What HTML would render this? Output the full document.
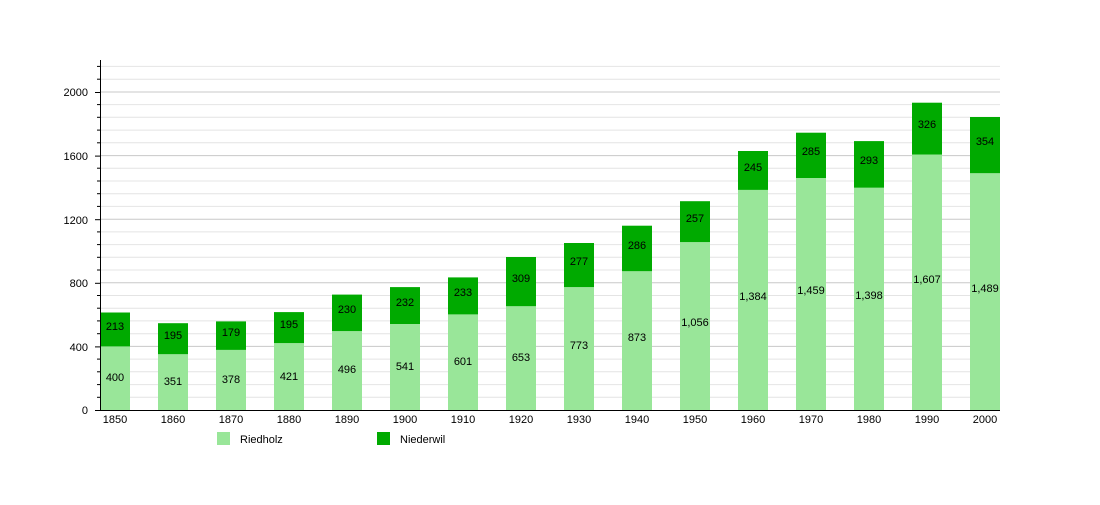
<!DOCTYPE html>
<html><head><meta charset="utf-8"><style>
body{margin:0;background:#fff}
svg text{font-family:"Liberation Sans",sans-serif;font-size:11px;fill:#000}
</style></head><body>
<svg width="1100" height="500" xmlns="http://www.w3.org/2000/svg">
<g stroke="#e4e4e4" stroke-width="1">
<line x1="100" x2="1000" y1="397.3" y2="397.3"/><line x1="100" x2="1000" y1="384.6" y2="384.6"/><line x1="100" x2="1000" y1="371.8" y2="371.8"/><line x1="100" x2="1000" y1="359.1" y2="359.1"/>
<line x1="100" x2="1000" y1="333.7" y2="333.7"/><line x1="100" x2="1000" y1="320.9" y2="320.9"/><line x1="100" x2="1000" y1="308.2" y2="308.2"/><line x1="100" x2="1000" y1="295.5" y2="295.5"/>
<line x1="100" x2="1000" y1="270.0" y2="270.0"/><line x1="100" x2="1000" y1="257.3" y2="257.3"/><line x1="100" x2="1000" y1="244.6" y2="244.6"/><line x1="100" x2="1000" y1="231.9" y2="231.9"/>
<line x1="100" x2="1000" y1="206.4" y2="206.4"/><line x1="100" x2="1000" y1="193.7" y2="193.7"/><line x1="100" x2="1000" y1="181.0" y2="181.0"/><line x1="100" x2="1000" y1="168.2" y2="168.2"/>
<line x1="100" x2="1000" y1="142.8" y2="142.8"/><line x1="100" x2="1000" y1="130.1" y2="130.1"/><line x1="100" x2="1000" y1="117.3" y2="117.3"/><line x1="100" x2="1000" y1="104.6" y2="104.6"/>
<line x1="100" x2="1000" y1="79.2" y2="79.2"/><line x1="100" x2="1000" y1="66.4" y2="66.4"/>
</g>
<g stroke="#c8c8c8" stroke-width="1">
<line x1="100" x2="1000" y1="346.4" y2="346.4"/><line x1="100" x2="1000" y1="282.8" y2="282.8"/><line x1="100" x2="1000" y1="219.2" y2="219.2"/><line x1="100" x2="1000" y1="155.6" y2="155.6"/><line x1="100" x2="1000" y1="92" y2="92"/>
</g>
<g fill="#99e699">
<rect x="100" y="346.4" width="30" height="63.6"/><rect x="158" y="354.2" width="30" height="55.8"/><rect x="216" y="349.9" width="30" height="60.1"/><rect x="274" y="343.1" width="30" height="66.9"/>
<rect x="332" y="331.1" width="30" height="78.9"/><rect x="390" y="324.0" width="30" height="86"/><rect x="448" y="314.4" width="30" height="95.6"/><rect x="506" y="306.2" width="30" height="103.8"/>
<rect x="564" y="287.1" width="30" height="122.9"/><rect x="622" y="271.2" width="30" height="138.8"/><rect x="680" y="242.1" width="30" height="167.9"/><rect x="738" y="189.9" width="30" height="220.1"/>
<rect x="796" y="178.0" width="30" height="232"/><rect x="854" y="187.7" width="30" height="222.3"/><rect x="912" y="154.5" width="30" height="255.5"/><rect x="970" y="173.2" width="30" height="236.8"/>
</g>
<g fill="#00aa00">
<rect x="100" y="312.5" width="30" height="33.9"/><rect x="158" y="323.2" width="30" height="31"/><rect x="216" y="321.4" width="30" height="28.5"/><rect x="274" y="312.1" width="30" height="31"/>
<rect x="332" y="294.6" width="30" height="36.5"/><rect x="390" y="287.1" width="30" height="36.9"/><rect x="448" y="277.4" width="30" height="37"/><rect x="506" y="257.0" width="30" height="49.2"/>
<rect x="564" y="243.0" width="30" height="44.1"/><rect x="622" y="225.7" width="30" height="45.5"/><rect x="680" y="201.2" width="30" height="40.9"/><rect x="738" y="151.0" width="30" height="38.9"/>
<rect x="796" y="132.7" width="30" height="45.3"/><rect x="854" y="141.1" width="30" height="46.6"/><rect x="912" y="102.7" width="30" height="51.8"/><rect x="970" y="117.0" width="30" height="56.2"/>
</g>
<g text-anchor="middle" dominant-baseline="middle">
<text x="115" y="378">400</text><text x="173" y="382">351</text><text x="231" y="380">378</text><text x="289" y="377">421</text>
<text x="347" y="370">496</text><text x="405" y="367">541</text><text x="463" y="362">601</text><text x="521" y="358">653</text>
<text x="579" y="346">773</text><text x="637" y="338">873</text><text x="695" y="323">1,056</text><text x="753" y="297">1,384</text>
<text x="811" y="291">1,459</text><text x="869" y="296">1,398</text><text x="927" y="280">1,607</text><text x="985" y="289">1,489</text>
<text x="115" y="327">213</text><text x="173" y="336">195</text><text x="231" y="333">179</text><text x="289" y="325">195</text>
<text x="347" y="310">230</text><text x="405" y="303">232</text><text x="463" y="293">233</text><text x="521" y="279">309</text>
<text x="579" y="262">277</text><text x="637" y="246">286</text><text x="695" y="219">257</text><text x="753" y="168">245</text>
<text x="811" y="152">285</text><text x="869" y="161">293</text><text x="927" y="125">326</text><text x="985" y="142">354</text>
</g>
<g stroke="#000" stroke-width="1">
<line x1="100.5" y1="60" x2="100.5" y2="410.5"/><line x1="100" y1="410.5" x2="1000" y2="410.5"/>
<line x1="95" x2="100" y1="410.5" y2="410.5"/><line x1="95" x2="100" y1="346.9" y2="346.9"/><line x1="95" x2="100" y1="283.3" y2="283.3"/><line x1="95" x2="100" y1="219.7" y2="219.7"/><line x1="95" x2="100" y1="156.1" y2="156.1"/><line x1="95" x2="100" y1="92.5" y2="92.5"/>
</g>
<g stroke="#000" stroke-width="1">
<line x1="97" x2="100" y1="397.3" y2="397.3"/><line x1="97" x2="100" y1="384.6" y2="384.6"/><line x1="97" x2="100" y1="371.8" y2="371.8"/><line x1="97" x2="100" y1="359.1" y2="359.1"/>
<line x1="97" x2="100" y1="333.7" y2="333.7"/><line x1="97" x2="100" y1="320.9" y2="320.9"/><line x1="97" x2="100" y1="308.2" y2="308.2"/><line x1="97" x2="100" y1="295.5" y2="295.5"/>
<line x1="97" x2="100" y1="270.0" y2="270.0"/><line x1="97" x2="100" y1="257.3" y2="257.3"/><line x1="97" x2="100" y1="244.6" y2="244.6"/><line x1="97" x2="100" y1="231.9" y2="231.9"/>
<line x1="97" x2="100" y1="206.4" y2="206.4"/><line x1="97" x2="100" y1="193.7" y2="193.7"/><line x1="97" x2="100" y1="181.0" y2="181.0"/><line x1="97" x2="100" y1="168.2" y2="168.2"/>
<line x1="97" x2="100" y1="142.8" y2="142.8"/><line x1="97" x2="100" y1="130.1" y2="130.1"/><line x1="97" x2="100" y1="117.3" y2="117.3"/><line x1="97" x2="100" y1="104.6" y2="104.6"/>
<line x1="97" x2="100" y1="79.2" y2="79.2"/><line x1="97" x2="100" y1="66.4" y2="66.4"/>
</g>
<g text-anchor="end">
<text x="88" y="414">0</text><text x="88" y="351">400</text><text x="88" y="287">800</text><text x="88" y="224">1200</text><text x="88" y="160">1600</text><text x="88" y="96">2000</text>
</g>
<g text-anchor="middle">
<text x="115" y="423">1850</text><text x="173" y="423">1860</text><text x="231" y="423">1870</text><text x="289" y="423">1880</text>
<text x="347" y="423">1890</text><text x="405" y="423">1900</text><text x="463" y="423">1910</text><text x="521" y="423">1920</text>
<text x="579" y="423">1930</text><text x="637" y="423">1940</text><text x="695" y="423">1950</text><text x="753" y="423">1960</text>
<text x="811" y="423">1970</text><text x="869" y="423">1980</text><text x="927" y="423">1990</text><text x="985" y="423">2000</text>
</g>
<rect x="217" y="432" width="13" height="13" fill="#99e699"/><text x="240" y="443">Riedholz</text>
<rect x="377" y="432" width="13" height="13" fill="#00aa00"/><text x="400" y="443">Niederwil</text>
</svg>
</body></html>
